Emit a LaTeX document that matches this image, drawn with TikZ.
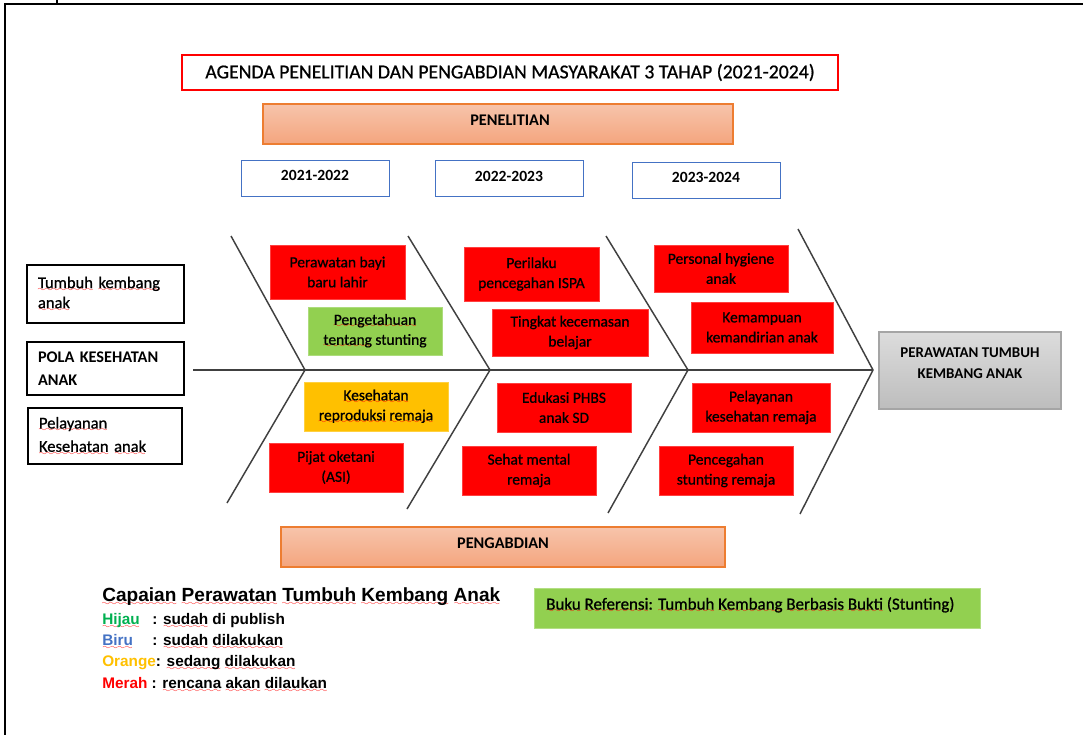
\documentclass[tikz,border=0pt]{standalone}
\usepackage{fontspec}
\setmainfont{Carlito}
\newfontfamily\heavyfam{Carlito}[FakeBold=0.8]
\newfontfamily\arialfont{Liberation Sans}
\font\wvfont=lasy6
\newcommand\wv[1]{\setbox0=\hbox{#1}\leavevmode\rlap{\lower2.4pt\hbox to\wd0{\color{red}\xleaders\hbox{\wvfont\char58}\hfil}}\box0\relax}
\definecolor{boxred}{HTML}{FF0000}
\definecolor{boxgreen}{HTML}{92D050}
\definecolor{boxorange}{HTML}{FFC000}
\definecolor{yearblue}{HTML}{4472C4}
\definecolor{peachA}{HTML}{F7C4AB}
\definecolor{peachB}{HTML}{F4A57E}
\definecolor{peachline}{HTML}{ED7D31}
\definecolor{greyA}{HTML}{DCDCDC}
\definecolor{greyB}{HTML}{BDBDBD}
\definecolor{greyline}{HTML}{A5A5A5}
\definecolor{hijau}{HTML}{00B050}
\definecolor{biru}{HTML}{4472C4}
\definecolor{oranye}{HTML}{FFC000}
\definecolor{fishline}{HTML}{404040}
\newcommand\boxfont{\heavyfam\fontsize{11.6}{15}\selectfont}
\newcommand\leftfont{\heavyfam\fontsize{12.4}{15}\selectfont}
\begin{document}
\begin{tikzpicture}[x=0.75pt,y=-0.75pt,
  cbox/.style={draw=#1!75!white, fill=#1, line width=0.6pt, align=center, inner sep=0pt, font=\boxfont},
  lbox/.style={draw=black, line width=1.1pt, fill=white, align=left, inner xsep=8.25pt, inner ysep=0pt, font=\leftfont},
  yearbox/.style={draw=yearblue, line width=1pt, minimum width=110.75pt, minimum height=27pt, inner sep=0pt},
  yeartext/.style={font=\bfseries\fontsize{11.7}{14}\selectfont, inner sep=0pt},
  peachbox/.style={draw=peachline, line width=1pt, top color=peachA, bottom color=peachB, minimum height=30pt, inner sep=0pt},
  bone/.style={draw=fishline, line width=1.1pt},
  spine/.style={draw=fishline, line width=1.5pt},
  legitem/.style={anchor=west, inner sep=0pt, font=\arialfont\bfseries\fontsize{11.5}{13}\selectfont}
]
\useasboundingbox (0,0) rectangle (1083,735);
% frame
\draw[line width=2.2pt] (1083,4) -- (5,4) -- (5,735);
\draw[line width=1.4pt] (57,0) -- (57,4);

% title
\node[draw=boxred, line width=0.9pt, minimum width=492pt, minimum height=26.25pt, inner sep=0pt,
      font=\heavyfam\fontsize{14.8}{17}\selectfont] (title) at (510,72.5) {AGENDA PENELITIAN DAN PENGABDIAN MASYARAKAT 3 TAHAP (2021-2024)};

% penelitian
\node[peachbox, minimum width=352.5pt] (pen) at (498,124) {};
\node[font=\bfseries\fontsize{12.2}{14}\selectfont, inner sep=0pt] (pentext) at (510,120) {PENELITIAN};

% years
\node[yearbox] (y1) at (315.5,178.5) {};
\node[yeartext] (y1t) at (315,175) {2021-2022};
\node[yearbox] (y2) at (509.5,178.5) {};
\node[yeartext] (y2t) at (509,176) {2022-2023};
\node[yearbox] (y3) at (706.5,180.5) {};
\node[yeartext] (y3t) at (706,177) {2023-2024};

% fishbone
\coordinate (spL) at (193,370);
\coordinate (c1t) at (231,236); \coordinate (c1v) at (305,370); \coordinate (c1b) at (227,503);
\coordinate (c2t) at (408,236); \coordinate (c2v) at (490,370); \coordinate (c2b) at (407,509);
\coordinate (c3t) at (606,236); \coordinate (c3v) at (688,370); \coordinate (c3b) at (608,513);
\coordinate (c4t) at (798,229); \coordinate (c4v) at (873,370); \coordinate (c4b) at (800,514);
\draw[spine] (spL) -- (c4v);
\draw[bone] (c1t) -- (c1v) -- (c1b);
\draw[bone] (c2t) -- (c2v) -- (c2b);
\draw[bone] (c3t) -- (c3v) -- (c3b);
\draw[bone] (c4t) -- (c4v) -- (c4b);

% left boxes
\node[lbox, minimum width=117.75pt, text width=101.25pt, minimum height=43.5pt] (l1) at (105.5,294)
  {\wv{Tumbuh} \wv{kembang}\\\wv{anak}};
\node[lbox, minimum width=117.75pt, text width=101.25pt, minimum height=39.75pt, font=\bfseries\fontsize{12.2}{17}\selectfont] (l2) at (105.5,368.5)
  {POLA KESEHATAN\\ANAK};
\node[lbox, minimum width=115.5pt, text width=99pt, minimum height=42pt, font=\heavyfam\fontsize{12.4}{17.5}\selectfont] (l3) at (105,436)
  {\wv{Pelayanan}\\\wv{Kesehatan} \wv{anak}};

% cause boxes
\node[cbox=boxred, minimum width=101.25pt, minimum height=40.5pt] (r1) at (337.5,272) {Perawatan bayi\\baru lahir};
\node[cbox=boxgreen, minimum width=100.5pt, minimum height=36pt] (g1) at (375,331) {\wv{Pengetahuan}\\\wv{tentang} stunting};
\node[cbox=boxorange, minimum width=108pt, minimum height=36.75pt] (o1) at (376,406.5) {\wv{Kesehatan}\\\wv{reproduksi} \wv{remaja}};
\node[cbox=boxred, minimum width=100.5pt, minimum height=36.75pt] (r2) at (336,467.5) {Pijat oketani\\(ASI)};
\node[cbox=boxred, minimum width=101.25pt, minimum height=40.5pt] (r3) at (531.5,274) {Perilaku\\pencegahan ISPA};
\node[cbox=boxred, minimum width=117pt, minimum height=35.25pt] (r4) at (570,332.5) {Tingkat kecemasan\\belajar};
\node[cbox=boxred, minimum width=100.5pt, minimum height=35.25pt] (r5) at (721,268.5) {Personal hygiene\\anak};
\node[cbox=boxred, minimum width=106.5pt, minimum height=38.25pt] (r6) at (762,327.5) {Kemampuan\\kemandirian anak};
\node[cbox=boxred, minimum width=100.5pt, minimum height=36.75pt] (r7) at (564,407.5) {Edukasi PHBS\\anak SD};
\node[cbox=boxred, minimum width=100.5pt, minimum height=36.75pt] (r8) at (529,470.5) {Sehat mental\\remaja};
\node[cbox=boxred, minimum width=103.5pt, minimum height=36.75pt] (r9) at (761,407.5) {Pelayanan\\kesehatan remaja};
\node[cbox=boxred, minimum width=100.5pt, minimum height=36.75pt] (r10) at (726,470.5) {Pencegahan\\stunting remaja};

% target
\node[draw=greyline, line width=1pt, top color=greyA, bottom color=greyB, minimum width=136.5pt, minimum height=57.75pt, inner sep=0pt] (tgt) at (970,370.5) {};
\node[font=\bfseries\fontsize{11.2}{15.75}\selectfont, align=center, inner sep=0pt] (tgttext) at (970,363) {PERAWATAN TUMBUH\\KEMBANG ANAK};

% pengabdian
\node[peachbox, minimum width=333pt] (peng) at (503,547) {};
\node[font=\bfseries\fontsize{12.2}{14}\selectfont, inner sep=0pt] (pengtext) at (503,543) {PENGABDIAN};

% legend
\node[anchor=west, inner sep=0pt, font=\arialfont\bfseries\fontsize{14.3}{16}\selectfont] (legtitle) at (102,597)
  {\wv{Capaian} \wv{Perawatan} \wv{Tumbuh} \wv{Kembang} \wv{Anak}};
\node[legitem] (leg1) at (102,621) {\makebox[37.5pt][l]{\color{hijau}\wv{Hijau}}: \wv{sudah} di publish};
\node[legitem] (leg2) at (102,642) {\makebox[37.5pt][l]{\color{biru}\wv{Biru}}: \wv{sudah} \wv{dilakukan}};
\node[legitem] (leg3) at (102,663) {\textcolor{oranye}{Orange}: \wv{sedang} \wv{dilakukan}};
\node[legitem] (leg4) at (102,685) {\textcolor{boxred}{Merah} : \wv{rencana} \wv{akan} \wv{dilaukan}};

% buku referensi
\node[draw=boxgreen!70!white, line width=0.6pt, fill=boxgreen, minimum width=334.5pt, minimum height=30pt, inner sep=0pt] (buku) at (757,608) {};
\node[anchor=west, inner sep=0pt, font=\heavyfam\fontsize{12.7}{15}\selectfont] (bukutext) at (546,605)
  {\wv{Buku} \wv{Referensi}: \wv{Tumbuh} \wv{Kembang} \wv{Berbasis} \wv{Bukti} (Stunting)};
\end{tikzpicture}
\end{document}
